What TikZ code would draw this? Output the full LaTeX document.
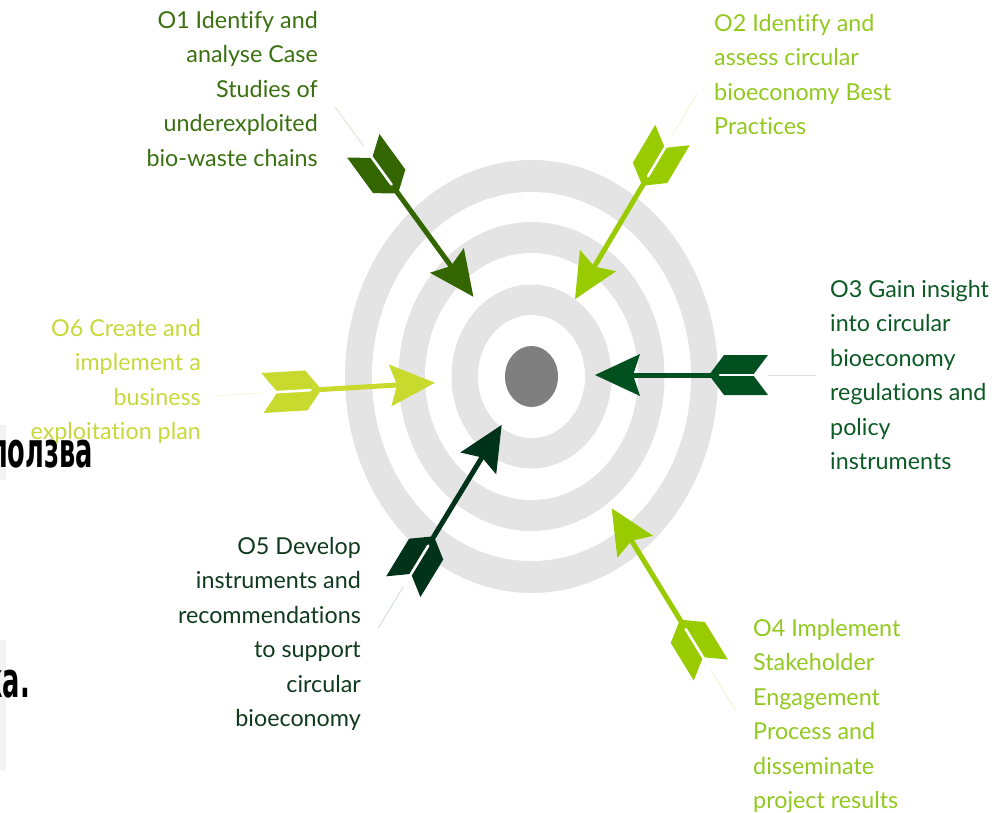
\documentclass[tikz,border=0pt]{standalone}
\usepackage{fontspec}
\setmainfont{Lato}[Ligatures={NoCommon,NoContextual}]
\newfontfamily\cyrfont{DejaVu Sans}
\usepackage{graphicx}
\definecolor{ringgray}{HTML}{E4E4E4}
\definecolor{bullgray}{HTML}{7F7F7F}
\definecolor{stripgray}{HTML}{F2F2F2}
\definecolor{cA}{HTML}{336600}
\definecolor{tA}{HTML}{3A7010}
\definecolor{cB}{HTML}{99CC00}
\definecolor{tB}{HTML}{92C91E}
\definecolor{cC}{HTML}{005020}
\definecolor{tC}{HTML}{0B5A25}
\definecolor{cE}{HTML}{00331A}
\definecolor{tE}{HTML}{103A1E}
\definecolor{cF}{HTML}{C8DA2E}
\definecolor{tF}{HTML}{C6D93A}
\tikzset{
  lbl/.style={font=\fontsize{23.3}{34.5}\selectfont, inner sep=0pt},
  cyr/.style={inner sep=0pt, anchor=base east},
}
% #1,#2 tail (px), #3 angle, #4 length, #5 colour
\newcommand{\dartarrow}[5]{%
  \begin{scope}[shift={(#1,#2)}, rotate=#3]
    \draw[#5!16, line width=1pt] (0,0) -- (-48,0);
    \fill[#5] (0,20) -- (44,20) -- (59,0) -- (44,-20) -- (0,-20) -- (15,0) -- cycle;
    \draw[white, line width=2.6pt, line cap=round] (12,0) -- (48,0);
    \fill[#5] (57,-2.5) rectangle (#4-36,2.5);
    \fill[#5] (#4,0) -- (#4-45,21) -- (#4-38,0) -- (#4-45,-21) -- cycle;
  \end{scope}}
\newlength\cyrw
\newcommand{\cyrsx}{0.55}
\AtBeginDocument{%
  \settowidth\cyrw{\cyrfont\bfseries\fontsize{49}{49}\selectfont олзва}%
  \ifdim\cyrw>1pt \pgfmathsetmacro\cyrsx{85/\cyrw}\global\let\cyrsx\cyrsx\fi}
\begin{document}
\begin{tikzpicture}[x=1pt,y=-1pt]
\useasboundingbox (0,0) rectangle (1006,813);
\clip (0,0) rectangle (1006,813);
% background fragments
\fill[stripgray] (0,425) rectangle (6,480);
\fill[stripgray] (0,640) rectangle (6,770);
\node[cyr] (cyra) at (93,467) {\scalebox{\cyrsx}[1]{\cyrfont\bfseries\fontsize{49}{49}\selectfont ползва}};
\node[cyr] (cyrb) at (30,697) {\scalebox{\cyrsx}[1]{\cyrfont\bfseries\fontsize{49}{49}\selectfont ка.}};
% target
\fill[ringgray] (531.5,376.5) ellipse [x radius=186.5, y radius=216.5];
\fill[white]    (531.5,376.5) ellipse [x radius=159.5, y radius=184.5];
\fill[ringgray] (531.5,376.5) ellipse [x radius=133,   y radius=154.5];
\fill[white]    (531.5,376.5) ellipse [x radius=106.5, y radius=123.5];
\fill[ringgray] (531.5,376.5) ellipse [x radius=80,    y radius=92];
\fill[white]    (531.5,376.5) ellipse [x radius=53.5,  y radius=61.5];
\fill[bullgray] (531.5,376.5) ellipse [x radius=26.5,  y radius=30.5];
% arrows
\dartarrow{363.3}{145.8}{-53.9}{186.8}{cA}
\dartarrow{672.5}{135}{239.3}{191}{cB}
\dartarrow{768}{375}{180}{173}{cC}
\dartarrow{710.8}{670}{121.5}{189.6}{cB}
\dartarrow{403.3}{586.7}{58.7}{189.3}{cE}
\dartarrow{262.5}{393}{3.4}{172.8}{cF}
% labels
\node[lbl, anchor=north east, align=right, text=tA] (o1) at (318,8)
  {\rule{0pt}{20pt}O1 Identify and\\analyse Case\\Studies of\\underexploited\\bio-waste chains};
\node[lbl, anchor=north west, align=left, text=tB] (o2) at (714,11)
  {\rule{0pt}{20pt}O2 Identify and\\assess circular\\bioeconomy Best\\Practices};
\node[lbl, anchor=north west, align=left, text=tC] (o3) at (830,277)
  {\rule{0pt}{20pt}O3 Gain insight\\into circular\\bioeconomy\\regulations and\\policy\\instruments};
\node[lbl, anchor=north west, align=left, text=tB] (o4) at (753,616)
  {\rule{0pt}{20pt}O4 Implement\\Stakeholder\\Engagement\\Process and\\disseminate\\project results};
\node[lbl, anchor=north east, align=right, text=tE] (o5) at (361,534)
  {\rule{0pt}{20pt}O5 Develop\\instruments and\\recommendations\\to support\\circular\\bioeconomy};
\node[lbl, anchor=north east, align=right, text=tF] (o6) at (201,316)
  {\rule{0pt}{20pt}O6 Create and\\implement a\\business\\exploitation plan};
\end{tikzpicture}
\end{document}
